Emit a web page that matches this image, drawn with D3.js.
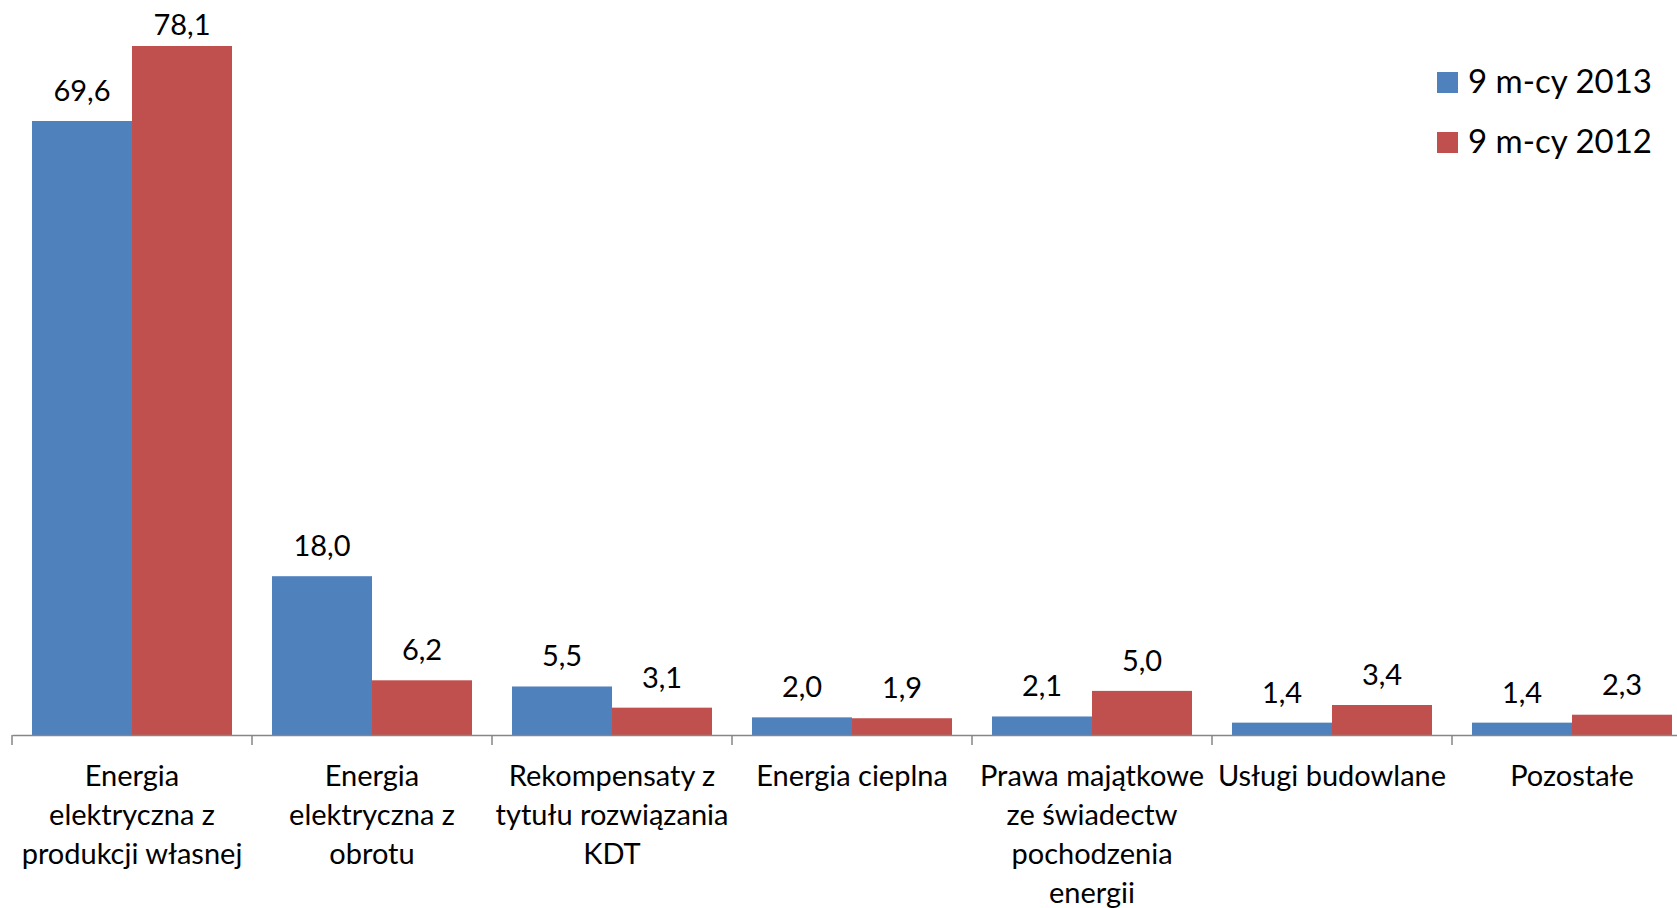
<!DOCTYPE html>
<html>
<head>
<meta charset="utf-8">
<script src="https://cdn.jsdelivr.net/npm/d3@7"></script>
<style>
  html, body { margin: 0; padding: 0; background: #fff; overflow: hidden; }
  text { font-family: Lato, "Open Sans", sans-serif; fill: #000; }
</style>
</head>
<body>
<svg id="chart" width="1677" height="908"></svg>
<script>
const categories = ["c1", "c2", "c3", "c4", "c5", "c6", "c7"];
const categoryLabels = [
  ["Energia", "elektryczna z", "produkcji własnej"],
  ["Energia", "elektryczna z", "obrotu"],
  ["Rekompensaty z", "tytułu rozwiązania", "KDT"],
  ["Energia cieplna"],
  ["Prawa majątkowe", "ze świadectw", "pochodzenia", "energii"],
  ["Usługi budowlane"],
  ["Pozostałe"]
];
const seriesNames = ["9 m-cy 2013", "9 m-cy 2012"];
const values2013 = [69.6, 18.0, 5.5, 2.0, 2.1, 1.4, 1.4];
const values2012 = [78.1, 6.2, 3.1, 1.9, 5.0, 3.4, 2.3];
const seriesColors = ["#4F81BD", "#C0504D"];

const svg = d3.select("#chart");
const baseY = 735;
const pxPerUnit = 8.822;
const yMax = 90;
const y = d3.scaleLinear().domain([0, yMax]).range([baseY, baseY - yMax * pxPerUnit]);
const x = d3.scaleBand().domain(categories).range([12, 1692])
  .paddingInner(1 / 6).paddingOuter(1 / 12);
const xs = d3.scaleBand().domain([0, 1]).range([0, x.bandwidth()]);

const fmt = v => d3.format(".1f")(v).replace(".", ",");
const series = [values2013, values2012];

const g = svg.append("g");
series.forEach((vals, si) => {
  g.selectAll(null).data(vals).enter().append("rect")
    .attr("x", (d, i) => x(categories[i]) + xs(si))
    .attr("y", d => y(d))
    .attr("width", xs.bandwidth())
    .attr("height", d => baseY - y(d))
    .attr("fill", seriesColors[si]);
  g.selectAll(null).data(vals).enter().append("text")
    .attr("x", (d, i) => x(categories[i]) + xs(si) + xs.bandwidth() / 2)
    .attr("y", d => Math.max(y(d) - 20, 35))
    .attr("text-anchor", "middle")
    .attr("font-size", 29)
    .text(d => fmt(d));
});

// axis
const axisG = svg.append("g").attr("transform", `translate(0,${baseY})`);
axisG.call(d3.axisBottom(x).tickSize(0).tickFormat(""));
axisG.select(".domain").attr("stroke", "#868686").attr("stroke-width", 1.5);
const bounds = categories.map(c => x(c) - x.step() * x.paddingOuter()).concat([x.range()[1]]);
axisG.selectAll(".bt").data(bounds).enter().append("line")
  .attr("x1", d => d).attr("x2", d => d)
  .attr("y1", 0).attr("y2", 10)
  .attr("stroke", "#868686").attr("stroke-width", 1.5);

// category labels
categoryLabels.forEach((lines, i) => {
  const cx = x(categories[i]) + x.bandwidth() / 2;
  const t = svg.append("text")
    .attr("x", cx)
    .attr("y", 786)
    .attr("text-anchor", "middle")
    .attr("font-size", 29);
  lines.forEach((ln, j) => {
    t.append("tspan").attr("x", cx).attr("y", 786 + j * 39).text(ln);
  });
});

// legend
const leg = svg.append("g");
seriesNames.forEach((n, i) => {
  leg.append("rect").attr("x", 1437).attr("y", 72 + i * 60)
    .attr("width", 21).attr("height", 21).attr("fill", seriesColors[i]);
  leg.append("text").attr("x", 1468).attr("y", 93 + i * 60)
    .attr("font-size", 33).text(n);
});
</script>
</body>
</html>
